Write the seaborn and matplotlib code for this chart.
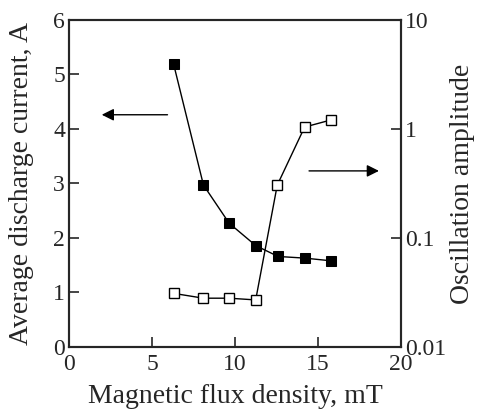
import matplotlib
matplotlib.use('Agg')
import matplotlib.pyplot as plt
import seaborn as sns
import pandas as pd

# 数据：磁通密度 vs 平均放电电流 / 振荡幅度
flux_current = [6.3, 8.1, 9.65, 11.25, 12.6, 14.2, 15.8]
current = [5.19, 2.97, 2.27, 1.86, 1.66, 1.63, 1.58]
flux_osc = [6.3, 8.1, 9.65, 11.25, 12.55, 14.2, 15.8]
amplitude = [0.031, 0.028, 0.028, 0.027, 0.305, 1.04, 1.21]

sns.set_style("ticks")
plt.rcParams['font.family'] = ['Liberation Serif', 'DejaVu Serif']

df_cur = pd.DataFrame({'B': flux_current, 'I': current})
df_osc = pd.DataFrame({'B': flux_osc, 'A': amplitude})

fig, ax = plt.subplots(figsize=(4.8, 4.15), dpi=100)
fig.subplots_adjust(left=0.144, right=0.835, top=0.952, bottom=0.164)
ax2 = ax.twinx()

sns.lineplot(data=df_cur, x='B', y='I', ax=ax, color='black', lw=1,
             marker='s', markersize=6.5, markerfacecolor='black',
             markeredgecolor='black')
sns.lineplot(data=df_osc, x='B', y='A', ax=ax2, color='black', lw=1,
             marker='s', markersize=7, markerfacecolor='white',
             markeredgecolor='black', markeredgewidth=1)

ax.set_xlim(0, 20)
ax.set_ylim(0, 6)
ax2.set_yscale('log')
ax2.set_ylim(0.01, 10)

ax.set_xticks([0, 5, 10, 15, 20])
ax.set_yticks(range(0, 7))
ax2.set_yticks([0.01, 0.1, 1, 10])
ax2.set_yticklabels(['0.01', '0.1', '1', '10'])
ax2.minorticks_off()

ax.set_xlabel('Magnetic flux density, mT', fontsize=20)
ax.set_ylabel('Average discharge current, A', fontsize=20)
ax2.set_ylabel('Oscillation amplitude', fontsize=20)
ax.xaxis.set_label_coords(0.5, -0.112)
ax.yaxis.set_label_coords(-0.105, 0.5)
ax2.yaxis.set_label_coords(1.148, 0.5)

for a in (ax, ax2):
    a.tick_params(direction='in', length=7, width=1.2, labelsize=17, pad=3)
    for s in a.spines.values():
        s.set_linewidth(1.5)
        s.set_visible(True)
ax.tick_params(axis='x', pad=5)

# 指示箭头
ax.annotate('', xy=(1.8, 4.26), xytext=(6.1, 4.26),
            arrowprops=dict(arrowstyle='-|>', color='black', lw=1,
                            mutation_scale=18))
ax.annotate('', xy=(18.85, 3.23), xytext=(14.3, 3.23),
            arrowprops=dict(arrowstyle='-|>', color='black', lw=1,
                            mutation_scale=18))

plt.savefig('out.png', dpi=100)
plt.close()
